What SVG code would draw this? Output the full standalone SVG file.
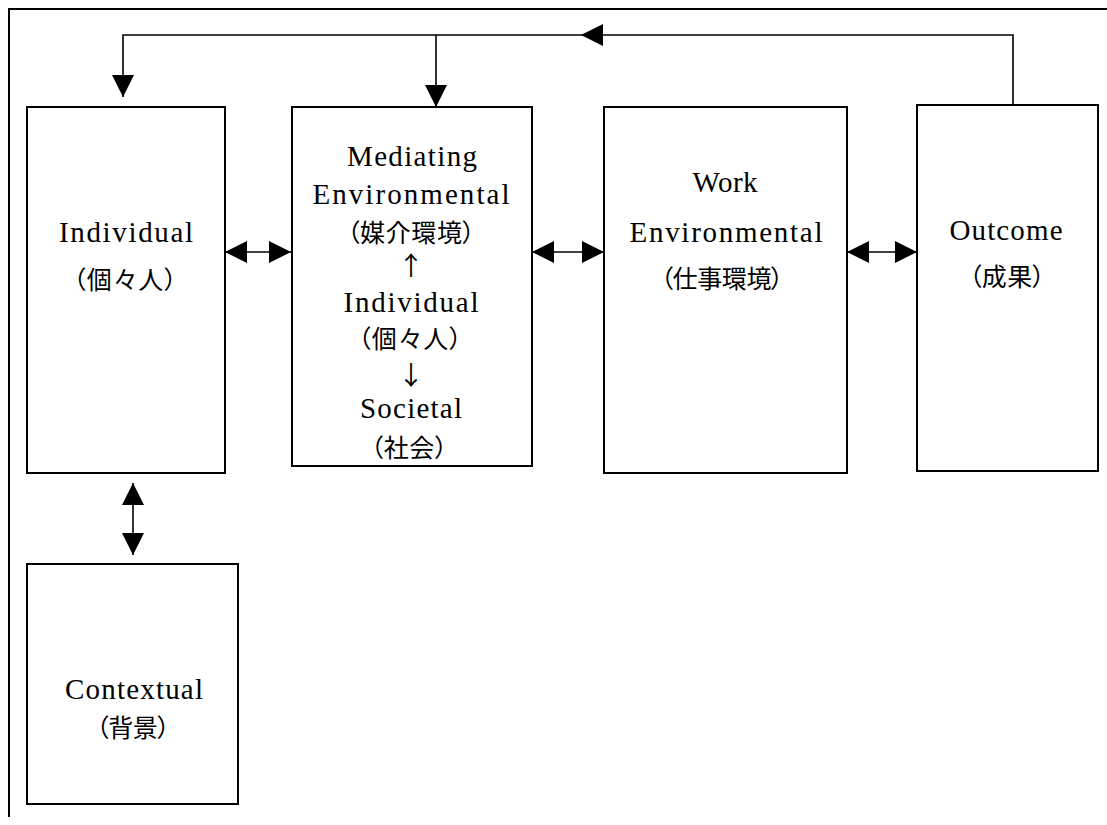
<svg xmlns="http://www.w3.org/2000/svg" width="1107" height="825" viewBox="0 0 1107 825">
<style>
.box{fill:#fff;stroke:#000;stroke-width:2}
.en{font-family:"Liberation Serif","Noto Sans CJK JP",serif;font-size:29px;fill:#000;text-anchor:middle}
.jp{font-family:"Noto Sans CJK JP",sans-serif;font-size:25px;fill:#000;text-anchor:middle;font-feature-settings:"palt"}
.ar{font-family:"Noto Sans CJK JP",sans-serif;font-size:26px;fill:#000;text-anchor:middle}
.ln{fill:none;stroke:#000;stroke-width:1.6}
</style>
<defs>
<marker id="ah" markerUnits="userSpaceOnUse" markerWidth="22" markerHeight="22" viewBox="0 0 20 20" refX="20" refY="10" orient="auto-start-reverse">
<path d="M0,0 L20,10 L0,20 Z" fill="#000"/>
</marker>
</defs>
<rect width="1107" height="825" fill="#fff"/>
<path d="M9,817 V9 H1107" fill="none" stroke="#000" stroke-width="2"/>
<g id="connectors">
<path class="ln" d="M1013,105 V35 H581" marker-end="url(#ah)"/>
<path class="ln" d="M581,35 H123 V97" marker-end="url(#ah)"/>
<path class="ln" d="M436,35 V107" marker-end="url(#ah)"/>
<path class="ln" d="M225,252 H291" marker-start="url(#ah)" marker-end="url(#ah)"/>
<path class="ln" d="M532,252 H604" marker-start="url(#ah)" marker-end="url(#ah)"/>
<path class="ln" d="M847,252 H917" marker-start="url(#ah)" marker-end="url(#ah)"/>
<path class="ln" d="M133,483 V555" marker-start="url(#ah)" marker-end="url(#ah)"/>
</g>
<g id="individual">
<rect class="box" x="27" y="107" width="198" height="366"/>
<text class="en" x="126" y="242" textLength="134" lengthAdjust="spacing">Individual</text>
<text class="jp" x="125" y="289" textLength="104" lengthAdjust="spacing">（個々人）</text>
</g>
<g id="mediating">
<rect class="box" x="292" y="107" width="240" height="359"/>
<text class="en" x="412" y="166" textLength="130" lengthAdjust="spacing">Mediating</text>
<text class="en" x="411" y="204" textLength="197" lengthAdjust="spacing">Environmental</text>
<text class="jp" x="411" y="242" textLength="128" lengthAdjust="spacing">（媒介環境）</text>
<text class="ar" x="411" y="275">↑</text>
<text class="en" x="411" y="312" textLength="135" lengthAdjust="spacing">Individual</text>
<text class="jp" x="410" y="348" textLength="104" lengthAdjust="spacing">（個々人）</text>
<text class="ar" x="411" y="385">↓</text>
<text class="en" x="411" y="418" textLength="102" lengthAdjust="spacing">Societal</text>
<text class="jp" x="409" y="457" textLength="77" lengthAdjust="spacing">（社会）</text>
</g>
<g id="work">
<rect class="box" x="604" y="107" width="243" height="366"/>
<text class="en" x="725" y="192" textLength="65" lengthAdjust="spacing">Work</text>
<text class="en" x="726" y="242" textLength="193" lengthAdjust="spacing">Environmental</text>
<text class="jp" x="722" y="288" textLength="123" lengthAdjust="spacing">（仕事環境）</text>
</g>
<g id="outcome">
<rect class="box" x="917" y="105" width="181" height="366"/>
<text class="en" x="1006" y="240" textLength="113" lengthAdjust="spacing">Outcome</text>
<text class="jp" x="1007" y="286" textLength="76" lengthAdjust="spacing">（成果）</text>
</g>
<g id="contextual">
<rect class="box" x="27" y="564" width="211" height="240"/>
<text class="en" x="134" y="699" textLength="138" lengthAdjust="spacing">Contextual</text>
<text class="jp" x="133" y="737" textLength="74" lengthAdjust="spacing">（背景）</text>
</g>
</svg>
